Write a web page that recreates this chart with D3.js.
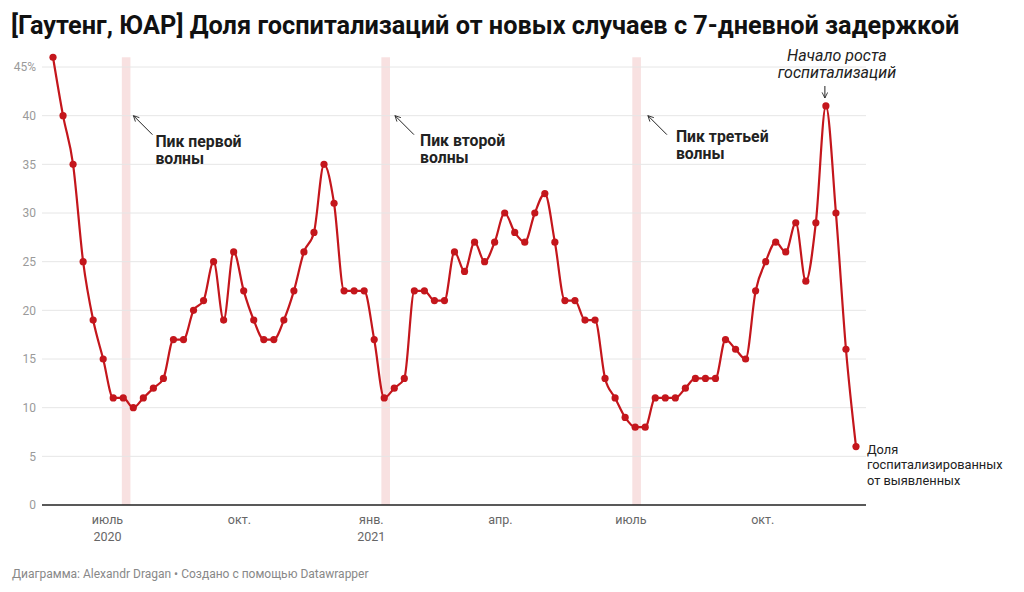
<!DOCTYPE html>
<html>
<head>
<meta charset="utf-8">
<script src="https://cdn.jsdelivr.net/npm/d3@7"></script>
<style>
  body { margin: 0; background: #fff; }
  text { font-family: Roboto, "Liberation Sans", sans-serif; }
</style>
</head>
<body>
<script>
// weekly share of hospitalised among new cases (7-day lag), %
var startDate = '2020-05-24';
var shareValues = [
  46, 40, 35, 25, 19, 15, 11, 11, 10, 11, 12, 13, 17, 17, 20, 21, 25, 19, 26, 22,
  19, 17, 17, 19, 22, 26, 28, 35, 31, 22, 22, 22, 17, 11, 12, 13, 22, 22, 21, 21,
  26, 24, 27, 25, 27, 30, 28, 27, 30, 32, 27, 21, 21, 19, 19, 13, 11, 9, 8, 8,
  11, 11, 11, 12, 13, 13, 13, 17, 16, 15, 22, 25, 27, 26, 29, 23, 29, 41, 30, 16, 6
];

var yTicks = [0, 5, 10, 15, 20, 25, 30, 35, 40, 45];
var xTickDates = ['2020-07-01', '2020-10-01', '2021-01-01', '2021-04-01', '2021-07-01', '2021-10-01'];
var xTickLabels = [['июль', '2020'], ['окт.'], ['янв.', '2021'], ['апр.'], ['июль'], ['окт.']];

// wave peaks, highlighted ranges
var peakStarts = ['2020-07-11', '2021-01-08', '2021-07-02'];
var peakEnds = ['2020-07-17', '2021-01-14', '2021-07-08'];
var peakLabels = [['Пик первой', 'волны'], ['Пик второй', 'волны'], ['Пик третьей', 'волны']];

var title = '[Гаутенг, ЮАР] Доля госпитализаций от новых случаев с 7-дневной задержкой';
var footer = 'Диаграмма: Alexandr Dragan • Создано с помощью Datawrapper';
var riseDate = '2021-11-14';
var riseLabel = ['Начало роста', 'госпитализаций'];
var seriesLabel = ['Доля', 'госпитализированных', 'от выявленных'];

var width = 1024;
var height = 592;
var parse = d3.timeParse('%Y-%m-%d');

var data = shareValues.map(function(v, i) {
  return { date: d3.timeDay.offset(parse(startDate), i * 7), value: v };
});

var svg = d3.select('body').append('svg')
  .attr('width', width)
  .attr('height', height);

var x = d3.scaleTime()
  .domain(d3.extent(data, function(d) { return d.date; }))
  .range([53, 856]);

var y = d3.scaleLinear()
  .domain([0, 45])
  .range([505, 67]);

var left = 42, right = 866;
var red = '#c4161c';

// highlighted peak bands
peakStarts.forEach(function(s, i) {
  var x0 = x(parse(s)), x1 = x(parse(peakEnds[i]));
  svg.append('rect')
    .attr('x', x0)
    .attr('y', y(46))
    .attr('width', x1 - x0)
    .attr('height', y(0) - y(46))
    .attr('fill', '#f8e1e1');
});

// grid
svg.append('g').selectAll('line')
  .data(yTicks.filter(function(t) { return t > 0; }))
  .enter().append('line')
  .attr('x1', left).attr('x2', right)
  .attr('y1', function(d) { return y(d); })
  .attr('y2', function(d) { return y(d); })
  .attr('stroke', '#e6e6e6')
  .attr('stroke-width', 1);

svg.append('g').selectAll('text')
  .data(yTicks)
  .enter().append('text')
  .attr('x', 36)
  .attr('y', function(d) { return y(d); })
  .attr('dy', '0.35em')
  .attr('text-anchor', 'end')
  .attr('font-size', 12)
  .attr('fill', '#9a9a9a')
  .text(function(d) { return d === 45 ? d + '%' : d; });

svg.append('line')
  .attr('x1', left).attr('x2', right)
  .attr('y1', y(0)).attr('y2', y(0))
  .attr('stroke', '#222')
  .attr('stroke-width', 1.5);

// x labels
xTickDates.forEach(function(s, i) {
  var t = svg.append('text')
    .attr('x', x(parse(s)))
    .attr('y', 524)
    .attr('text-anchor', 'middle')
    .attr('font-size', 12.5)
    .attr('fill', '#666');
  xTickLabels[i].forEach(function(line, j) {
    t.append('tspan')
      .attr('x', x(parse(s)))
      .attr('dy', j === 0 ? 0 : 17)
      .text(line);
  });
});

// line + dots
var line = d3.line()
  .x(function(d) { return x(d.date); })
  .y(function(d) { return y(d.value); })
  .curve(d3.curveMonotoneX);

svg.append('path')
  .datum(data)
  .attr('d', line)
  .attr('fill', 'none')
  .attr('stroke', red)
  .attr('stroke-width', 2.2);

svg.append('g').selectAll('circle')
  .data(data)
  .enter().append('circle')
  .attr('cx', function(d) { return x(d.date); })
  .attr('cy', function(d) { return y(d.value); })
  .attr('r', 3.6)
  .attr('fill', red);

// arrow marker
svg.append('defs').append('marker')
  .attr('id', 'head')
  .attr('viewBox', '0 0 10 10')
  .attr('refX', 9).attr('refY', 5)
  .attr('markerWidth', 7).attr('markerHeight', 7)
  .attr('orient', 'auto')
  .append('path')
  .attr('d', 'M1,1 L9,5 L1,9')
  .attr('fill', 'none')
  .attr('stroke', '#222')
  .attr('stroke-width', 1.2);

// peak annotations: arrow tip / text offsets from band end
var tipDx = [3, 5, 7];
var textDx = [25, 30, 35];
var textDy = [31, 30, 26];
peakEnds.forEach(function(s, i) {
  var bx = x(parse(s));
  var tipX = bx + tipDx[i];
  var tipY = y(40);
  svg.append('line')
    .attr('x1', tipX + 19).attr('y1', tipY + 19)
    .attr('x2', tipX).attr('y2', tipY)
    .attr('stroke', '#222')
    .attr('stroke-width', 1)
    .attr('marker-end', 'url(#head)');
  var t = svg.append('text')
    .attr('x', bx + textDx[i])
    .attr('y', tipY + textDy[i])
    .attr('font-size', 15.8)
    .attr('font-weight', 'bold')
    .attr('fill', '#222');
  peakLabels[i].forEach(function(l, j) {
    t.append('tspan').attr('x', bx + textDx[i]).attr('dy', j === 0 ? 0 : 17).text(l);
  });
});

// rise annotation above the late peak
var px = x(parse(riseDate)) - 1;
var rt = svg.append('text')
  .attr('x', px + 12)
  .attr('y', 61)
  .attr('text-anchor', 'middle')
  .attr('font-size', 16)
  .attr('font-style', 'italic')
  .attr('fill', '#222');
riseLabel.forEach(function(l, j) {
  rt.append('tspan').attr('x', px + 12).attr('dy', j === 0 ? 0 : 17).text(l);
});
svg.append('line')
  .attr('x1', px).attr('y1', 86)
  .attr('x2', px).attr('y2', 98)
  .attr('stroke', '#222')
  .attr('stroke-width', 1)
  .attr('marker-end', 'url(#head)');

// series label at last point
var last = data[data.length - 1];
var st = svg.append('text')
  .attr('x', x(last.date) + 11)
  .attr('y', y(last.value) + 7)
  .attr('font-size', 12.8)
  .attr('fill', '#222');
seriesLabel.forEach(function(l, j) {
  st.append('tspan').attr('x', x(last.date) + 11).attr('dy', j === 0 ? 0 : 15.5).text(l);
});

// title + footer
svg.append('text')
  .attr('x', 11)
  .attr('y', 34)
  .attr('font-family', '"Liberation Sans", Arial, sans-serif')
  .attr('font-size', 25.3)
  .attr('font-weight', 'bold')
  .attr('fill', '#111')
  .text(title);

svg.append('text')
  .attr('x', 12)
  .attr('y', 578)
  .attr('font-size', 12)
  .attr('fill', '#888')
  .text(footer);
</script>
</body>
</html>
